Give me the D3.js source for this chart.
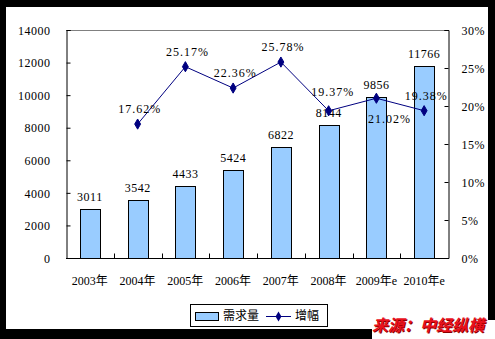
<!DOCTYPE html>
<html><head><meta charset="utf-8">
<script src="https://cdn.jsdelivr.net/npm/d3@7"></script>
<style>
html,body{margin:0;padding:0;background:#000;}
svg{display:block;}
text{font-family:"Liberation Serif","Noto Sans CJK SC",serif;font-size:12px;fill:#000;}
.cjk{font-family:"Noto Sans CJK SC",sans-serif;}
.src{font-family:"Noto Sans CJK SC",sans-serif;font-size:16px;font-weight:bold;font-style:italic;}
</style></head>
<body>
<script>
const categories = ["2003年","2004年","2005年","2006年","2007年","2008年","2009年e","2010年e"];
const demand = [3011,3542,4433,5424,6822,8144,9856,11766];
const growth = [null,17.62,25.17,22.36,25.78,19.37,21.02,19.38];
const leftTicks = [0,2000,4000,6000,8000,10000,12000,14000];
const rightTicks = [0,5,10,15,20,25,30];
const seriesNames = ["需求量","增幅"];
const sourceText = "来源：中经纵横";
// label placement tweaks (layout only)
const growthLabelShift = {"2009年e":{dx:13,dy:25}, "2008年":{dx:4,dy:-15}};

const W=495,H=339;
const svg=d3.select("body").append("svg").attr("width",W).attr("height",H);
svg.append("rect").attr("width",W).attr("height",H).attr("fill","#000");
svg.append("rect").attr("x",6).attr("y",7).attr("width",482).attr("height",322).attr("fill","#fff");
svg.append("rect").attr("x",372).attr("y",320).attr("width",123).attr("height",19).attr("fill","#fff");

const L=66,R=448,T=30,B=258;
const x=d3.scaleBand().domain(categories).range([L,R]).paddingInner(0).paddingOuter(0);
const y=d3.scaleLinear().domain([0,14000]).range([B,T]);
const y2=d3.scaleLinear().domain([0,30]).range([B,T]);

// top border
svg.append("line").attr("x1",L).attr("x2",R).attr("y1",T+0.5).attr("y2",T+0.5).attr("stroke","#808080");

// bars
const bw=20;
svg.selectAll("rect.bar").data(demand).enter().append("rect").attr("class","bar")
  .attr("x",(d,i)=>Math.round(x(categories[i])+x.bandwidth()/2-bw/2)+0.5)
  .attr("y",d=>Math.round(y(d))+0.5)
  .attr("width",bw)
  .attr("height",d=>B-Math.round(y(d)))
  .attr("fill","#99CCFF").attr("stroke","#000").attr("stroke-width",1);

svg.selectAll("text.bv").data(demand).enter().append("text").attr("class","bv")
  .attr("x",(d,i)=>x(categories[i])+x.bandwidth()/2)
  .attr("y",d=>y(d)-8)
  .attr("text-anchor","middle").style("letter-spacing","0.5px")
  .text(d=>d);

// axes
const la=d3.axisLeft(y).tickValues(leftTicks).tickSize(-4).tickPadding(16).tickFormat(d=>d);
const gl=svg.append("g").attr("transform",`translate(${L+0.5},0)`).call(la);
const ra=d3.axisRight(y2).tickValues(rightTicks).tickSize(-4).tickPadding(13).tickFormat(d=>d+"%");
const gr=svg.append("g").attr("transform",`translate(${R+0.5},0)`).call(ra);
[gl,gr].forEach(g=>{
  g.attr("font-family","Liberation Serif, serif").attr("font-size",12);
  g.selectAll("path").attr("stroke","#000");
  g.selectAll("line").attr("stroke","#000");
  g.selectAll("text").style("font-family","'Liberation Serif', serif").style("font-size","12px").style("letter-spacing","0.5px").attr("fill","#000");
});
gl.selectAll("text").attr("dy","0.35em");
gr.selectAll("text").attr("dy","0.35em");

// x axis
const gx=svg.append("g").attr("transform",`translate(0,${B+0.5})`);
gx.append("line").attr("x1",L).attr("x2",R+1).attr("stroke","#000");
const bounds=categories.map(c=>x(c)).concat([R]);
gx.selectAll("line.tk").data(bounds.slice(1,-1)).enter().append("line").attr("class","tk")
  .attr("x1",d=>Math.round(d)+0.5).attr("x2",d=>Math.round(d)+0.5).attr("y1",0).attr("y2",-5).attr("stroke","#000");
gx.selectAll("text").data(categories).enter().append("text")
  .attr("x",c=>x(c)+x.bandwidth()/2).attr("y",26)
  .attr("text-anchor","middle").text(c=>c);

// line series
const pts=categories.map((c,i)=>({c,v:growth[i]})).filter(d=>d.v!=null);
const line=d3.line().x(d=>x(d.c)+x.bandwidth()/2).y(d=>y2(d.v));
svg.append("path").datum(pts).attr("d",line).attr("fill","none").attr("stroke","#000080").attr("stroke-width",1);
const diamond=d3.symbol().type(d3.symbolDiamond).size(30);
svg.selectAll("path.mk").data(pts).enter().append("path").attr("class","mk")
  .attr("d",diamond).attr("transform",d=>`translate(${x(d.c)+x.bandwidth()/2},${y2(d.v)})`)
  .attr("fill","#000080").attr("stroke","#000080");
svg.selectAll("text.gv").data(pts).enter().append("text").attr("class","gv")
  .attr("x",d=>x(d.c)+x.bandwidth()/2+(growthLabelShift[d.c]?growthLabelShift[d.c].dx:2))
  .attr("y",d=>y2(d.v)+(growthLabelShift[d.c]?growthLabelShift[d.c].dy:-11))
  .attr("text-anchor","middle").style("letter-spacing","1px")
  .text(d=>d.v.toFixed(2)+"%");

// legend
const lg=svg.append("g");
lg.append("rect").attr("x",190.5).attr("y",304.5).attr("width",137).attr("height",22).attr("fill","#fff").attr("stroke","#000");
lg.append("rect").attr("x",195.5).attr("y",312.5).attr("width",23).attr("height",8).attr("fill","#99CCFF").attr("stroke","#000");
lg.append("text").attr("class","cjk").attr("x",223).attr("y",316).attr("dy","0.35em").text(seriesNames[0]);
lg.append("line").attr("x1",266).attr("x2",291).attr("y1",316.5).attr("y2",316.5).attr("stroke","#000080");
lg.append("path").attr("d",diamond).attr("transform","translate(278.5,316.5)").attr("fill","#000080");
lg.append("text").attr("class","cjk").attr("x",295).attr("y",316).attr("dy","0.35em").text(seriesNames[1]);

// source
svg.append("text").attr("class","src").attr("x",373).attr("y",332).style("fill","#8a0000").text(sourceText);
svg.append("text").attr("class","src").attr("x",372).attr("y",331).style("fill","#E8101C").text(sourceText);
</script>
</body></html>
